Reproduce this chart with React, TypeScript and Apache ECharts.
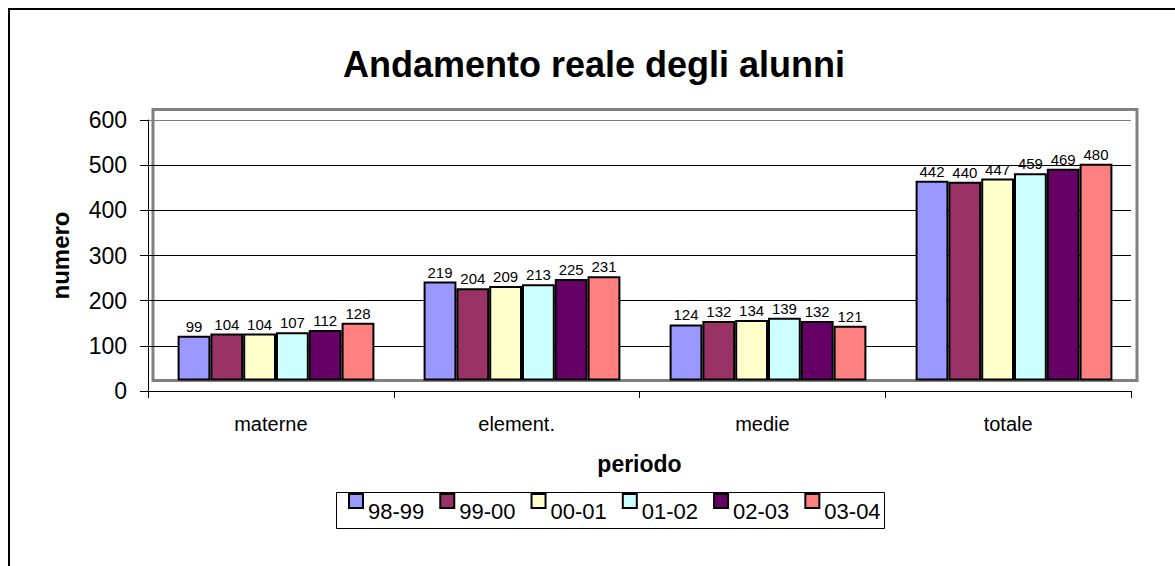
import React, { useEffect, useRef } from 'react';
import * as echarts from 'echarts';

const categories = ['materne', 'element.', 'medie', 'totale'];
const periods = ['98-99', '99-00', '00-01', '01-02', '02-03', '03-04'];
const values98_99 = [99, 219, 124, 442];
const values99_00 = [104, 204, 132, 440];
const values00_01 = [104, 209, 134, 447];
const values01_02 = [107, 213, 139, 459];
const values02_03 = [112, 225, 132, 469];
const values03_04 = [128, 231, 121, 480];
const seriesValues = [values98_99, values99_00, values00_01, values01_02, values02_03, values03_04];
const colors = ['#9999FF', '#993366', '#FFFFCC', '#CCFFFF', '#660066', '#FF8080'];
const yMin = 0;
const yMax = 600;
const yInterval = 100;

const FONT = '"Liberation Sans", Arial, Helvetica, sans-serif';

export default function App() {
  const ref = useRef<HTMLDivElement>(null);
  useEffect(() => {
    if (!ref.current) return;
    const chart = echarts.init(ref.current, undefined, { renderer: 'svg' });
    const option: any = {
      animation: false,
      backgroundColor: '#fff',
      textStyle: { fontFamily: FONT, color: '#000' },
      title: {
        text: 'Andamento reale degli alunni',
        left: 594,
        top: 46,
        textAlign: 'center',
        padding: 0,
        textStyle: { fontSize: 36, fontWeight: 'bold', color: '#000', fontFamily: FONT },
      },
      legend: {
        data: periods,
        left: 348,
        top: 480,
        padding: 0,
        itemWidth: 14,
        itemHeight: 14,
        itemGap: 15,
        icon: 'rect',
        formatter: (name: string) => '\n' + name,
        itemStyle: { borderColor: '#000', borderWidth: 2 },
        textStyle: { fontSize: 22, lineHeight: 20, color: '#000', fontFamily: FONT },
      },
      grid: [
        { left: 148, top: 120, width: 983, height: 271, show: false },
        {
          left: 153, top: 109.5, width: 984, height: 271, show: true,
          borderColor: '#808080', borderWidth: 3, backgroundColor: 'transparent',
        },
      ],
      xAxis: [
        {
          type: 'category', gridIndex: 0, data: categories,
          axisLine: { show: true, lineStyle: { color: '#000', width: 1 } },
          axisTick: { show: true, length: 7, alignWithLabel: false, lineStyle: { color: '#000' } },
          axisLabel: { fontSize: 20, color: '#000', margin: 23, fontFamily: FONT },
          splitLine: { show: false },
          name: 'periodo', nameLocation: 'middle', nameGap: 61,
          nameTextStyle: { fontSize: 23, fontWeight: 'bold', color: '#000', fontFamily: FONT },
        },
        { type: 'category', gridIndex: 1, data: categories, show: false },
      ],
      yAxis: [
        {
          type: 'value', gridIndex: 0, min: yMin, max: yMax, interval: yInterval,
          axisLine: { show: true, lineStyle: { color: '#000', width: 1 } },
          axisTick: { show: true, length: 8, lineStyle: { color: '#000' } },
          axisLabel: { fontSize: 23, color: '#000', margin: 21, fontFamily: FONT },
          splitLine: {
            show: true,
            lineStyle: { color: ['#000', '#000', '#000', '#000', '#000', '#000', '#808080'], width: 1 },
          },
          name: 'numero', nameLocation: 'middle', nameGap: 76,
          nameTextStyle: { fontSize: 24, fontWeight: 'bold', color: '#000', fontFamily: FONT },
        },
        { type: 'value', gridIndex: 1, min: yMin, max: yMax, interval: yInterval, show: false },
      ],
      series: periods.map((p, i) => ({
        name: p,
        type: 'bar',
        xAxisIndex: 1,
        yAxisIndex: 1,
        data: seriesValues[i],
        barGap: '0%',
        barCategoryGap: '20%',
        itemStyle: { color: colors[i], borderColor: '#000', borderWidth: 2 },
        label: { show: true, position: 'top', distance: 2, fontSize: 15, color: '#000', fontFamily: FONT },
      })),
      graphic: [
        { type: 'line', shape: { x1: 8, y1: 9, x2: 1175, y2: 9 }, style: { stroke: '#000', lineWidth: 2 }, z: 10 },
        { type: 'line', shape: { x1: 9, y1: 8, x2: 9, y2: 566 }, style: { stroke: '#000', lineWidth: 2 }, z: 10 },
        {
          type: 'rect', shape: { x: 336.5, y: 492.5, width: 548, height: 36 },
          style: { fill: 'transparent', stroke: '#000', lineWidth: 1 }, z: 0,
        },
      ],
    };
    chart.setOption(option);
    return () => chart.dispose();
  }, []);
  return <div ref={ref} style={{ position: 'fixed', left: 0, top: 0, width: 1175, height: 566 }} />;
}
